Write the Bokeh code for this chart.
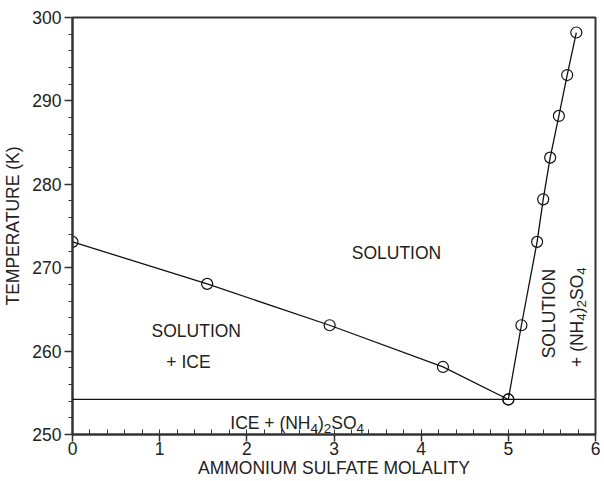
import math
from bokeh.plotting import figure
from bokeh.models import Range1d, FixedTicker, Span
from bokeh.core.properties import value
from bokeh.embed import file_html
from bokeh.resources import INLINE

# Data
ice_molality = [0.0, 1.545, 2.95, 4.25, 5.0]
ice_temp = [273.1, 268.06, 263.1, 258.1, 254.2]
salt_molality = [5.0, 5.15, 5.33, 5.40, 5.48, 5.58, 5.675, 5.78]
salt_temp = [254.2, 263.1, 273.1, 278.2, 283.2, 288.2, 293.1, 298.2]
eutectic_temp = 254.2
x_ticks = [0, 1, 2, 3, 4, 5, 6]
y_ticks = [250, 260, 270, 280, 290, 300]

FONT = "Liberation Sans"
FS = 17.5
SUB_FS = 13.5
TXT = "#222222"
AX = "#333333"

p = figure(width=600, height=480, output_backend="svg", toolbar_location=None,
           x_range=Range1d(0, 6), y_range=Range1d(250, 300),
           min_border_left=72, min_border_right=5, min_border_top=17,
           min_border_bottom=30)
p.grid.visible = False
p.outline_line_color = AX
p.outline_line_width = 2
p.background_fill_color = "white"
p.border_fill_color = "white"

p.xaxis.ticker = FixedTicker(ticks=x_ticks,
                             minor_ticks=[i * 0.2 for i in range(31)])
p.yaxis.ticker = FixedTicker(ticks=y_ticks,
                             minor_ticks=[250 + 2 * i for i in range(26)])
for ax in (p.xaxis, p.yaxis):
    ax.axis_line_width = 2
    ax.axis_line_color = AX
    ax.major_tick_line_color = AX
    ax.minor_tick_line_color = AX
    ax.major_tick_line_width = 1.5
    ax.minor_tick_line_width = 1
    ax.major_label_text_font = FONT
    ax.major_label_text_font_size = f"{FS}px"
    ax.major_label_text_color = TXT
    ax.axis_label_text_font = FONT
    ax.axis_label_text_font_size = f"{FS}px"
    ax.axis_label_text_font_style = "normal"
    ax.axis_label_text_color = TXT

p.xaxis.major_tick_in = 0
p.xaxis.major_tick_out = 7
p.xaxis.minor_tick_in = 5
p.xaxis.minor_tick_out = 0
p.xaxis.major_label_standoff = 0
p.xaxis.axis_label = "AMMONIUM SULFATE MOLALITY"
p.xaxis.axis_label_standoff = 0

p.yaxis.major_tick_in = 0
p.yaxis.major_tick_out = 8
p.yaxis.minor_tick_in = 0
p.yaxis.minor_tick_out = 4
p.yaxis.major_label_standoff = 3
p.yaxis.axis_label = "TEMPERATURE (K)"
p.yaxis.axis_label_standoff = 6

# eutectic line
p.add_layout(Span(location=eutectic_temp, dimension="width",
                  line_color="#111111", line_width=1.3))

p.line(ice_molality, ice_temp, line_color="#111111", line_width=1.3)
p.scatter(ice_molality, ice_temp, marker="circle", size=11,
          fill_color=None, line_color="#111111", line_width=1.2)
p.line(salt_molality, salt_temp, line_color="#111111", line_width=1.3)
p.scatter(salt_molality, salt_temp, marker="circle", size=11,
          fill_color=None, line_color="#111111", line_width=1.2)

# Arial/Liberation Sans advance widths (per 1000 em)
W = {"I": 278, "C": 722, "E": 667, " ": 278, "+": 584, "(": 333, ")": 333,
     "N": 722, "H": 722, "S": 667, "O": 778, "L": 556, "U": 722, "T": 611,
     "2": 556, "4": 556}


def tw(s, fs):
    return sum(W.get(c, 600) for c in s) * fs / 1000.0


def label(x, y, t, align="center", angle=0.0, baseline="middle"):
    p.text(x=[x], y=[y], text=[t], text_font=value(FONT),
           text_font_size=f"{FS}px", text_color=TXT, text_align=align,
           text_baseline=baseline, angle=angle)


def formula(x, y, pieces, angle=0.0):
    """pieces: list of (text, is_sub). Anchored at left baseline."""
    adv = 0.0
    for t, sub in pieces:
        fs = SUB_FS if sub else FS
        shift = 5 if sub else 0
        if angle == 0.0:
            xo, yo = adv, shift
        else:
            xo, yo = shift, -adv
        p.text(x=[x], y=[y], text=[t], text_font=value(FONT),
               text_font_size=f"{fs}px", text_color=TXT, text_align="left",
               text_baseline="alphabetic", angle=angle,
               x_offset=xo, y_offset=yo)
        adv += tw(t, fs)


label(3.717, 271.8, "SOLUTION")
label(1.42, 262.4, "SOLUTION")
label(1.33, 258.7, "+ ICE")

nh4so4 = [("(NH", False), ("4", True), (")", False), ("2", True),
          ("SO", False), ("4", True)]
formula(1.81, 251.35, [("ICE + ", False)] + nh4so4)

label(5.472, 264.5, "SOLUTION", angle=math.pi / 2)
formula(5.785, 258.1, [("+ ", False)] + nh4so4, angle=math.pi / 2)

open("out.html", "w").write(file_html(p, INLINE))
